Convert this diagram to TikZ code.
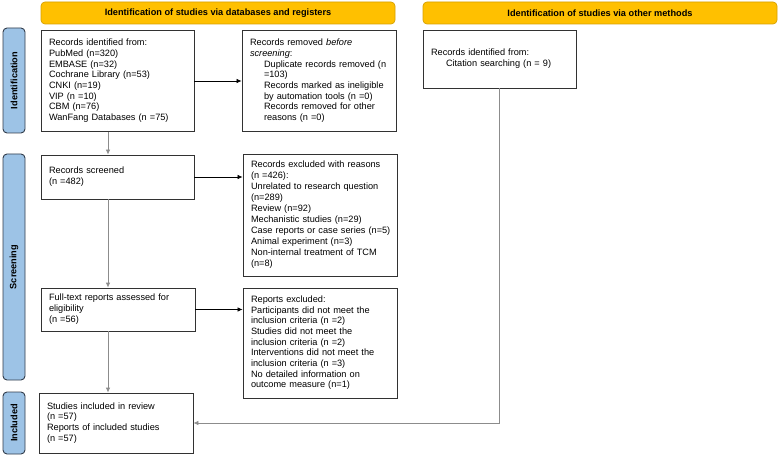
\documentclass[tikz,border=0pt]{standalone}
\usepackage{fontspec}
\setmainfont{Liberation Sans}
\usetikzlibrary{arrows.meta,calc}
\definecolor{bannerfill}{RGB}{255,192,0}
\definecolor{bannerdraw}{RGB}{214,160,0}
\definecolor{sidefill}{RGB}{157,195,230}
\definecolor{sidedraw}{RGB}{50,60,75}
\definecolor{boxdraw}{RGB}{50,50,50}
\definecolor{vline}{RGB}{140,140,140}
\newcommand\bxt[1]{\begin{tabular}{@{}l@{}}#1\end{tabular}}
\begin{document}
\begin{tikzpicture}[x=1pt,y=-1pt,
  font=\fontsize{9.2}{10.7}\selectfont,
  banner/.style={draw=bannerdraw, fill=bannerfill, rounded corners=4pt, line width=0.7pt,
    minimum width=354pt, minimum height=22pt, font=\fontsize{9.2}{10.7}\selectfont\bfseries, inner sep=0pt},
  side/.style={draw=sidedraw, fill=sidefill, rounded corners=4pt, line width=0.9pt, rotate=90,
    minimum height=22pt, font=\fontsize{9.2}{10.7}\selectfont\bfseries, inner sep=0pt},
  box/.style={draw=boxdraw, line width=0.8pt, inner xsep=8pt, inner ysep=0pt, anchor=center},
  hline/.style={draw=black, line width=0.7pt, -{Latex[length=5pt,width=4.5pt]}},
  vconn/.style={draw=vline, line width=0.8pt, -{Latex[length=5pt,width=4.5pt]}}
]
\useasboundingbox (0,0) rectangle (779,457);

% banners
\node[banner] (ban1) at (218,13) {Identification of studies via databases and registers};
\node[banner] (ban2) at (600,13) {Identification of studies via other methods};

% side labels
\node[side, minimum width=105pt] (sid) at (14,80.5) {Identification};
\node[side, minimum width=226pt] (sscr) at (14,267) {Screening};
\node[side, minimum width=62pt] (sinc) at (14,423) {Included};

% boxes
\node[box, text width=137pt, minimum height=101pt] (A) at (117.5,81) {\bxt{Records identified from:\\PubMed (n=320)\\EMBASE (n=32)\\Cochrane Library (n=53)\\CNKI (n=19)\\VIP (n =10)\\CBM (n=76)\\WanFang Databases (n =75)}};

\node[box, text width=138pt, minimum height=101pt] (B) at (319,81) {\bxt{Records removed \textit{before}\\\textit{screening}:\\\hspace*{14pt}Duplicate records removed (n\\\hspace*{14pt}=103)\\\hspace*{14pt}Records marked as ineligible\\\hspace*{14pt}by automation tools (n =0)\\\hspace*{14pt}Records removed for other\\\hspace*{14pt}reasons (n =0)}};

\node[box, text width=137pt, minimum height=58pt] (C) at (499.5,59) {\bxt{Records identified from:\\\hspace*{15pt}Citation searching (n = 9)}};

\node[box, text width=137pt, minimum height=44pt] (D) at (117.5,177) {\bxt{Records screened\\(n =482)}};

\node[box, text width=138pt, minimum height=122pt, font=\fontsize{9.2}{11}\selectfont] (E) at (320,215) {\bxt{Records excluded with reasons\\(n =426):\\Unrelated to research question\\(n=289)\\Review (n=92)\\Mechanistic studies (n=29)\\Case reports or case series (n=5)\\Animal experiment (n=3)\\Non-internal treatment of TCM\\(n=8)}};

\node[box, text width=138pt, minimum height=43pt] (F) at (118,309.5) {\bxt{Full-text reports assessed for\\eligibility\\(n =56)}};

\node[box, text width=138pt, minimum height=110pt] (G) at (320,343) {\bxt{Reports excluded:\\Participants did not meet the\\inclusion criteria (n =2)\\Studies did not meet the\\inclusion criteria (n =2)\\Interventions did not meet the\\inclusion criteria (n =3)\\No detailed information on\\outcome measure (n=1)}};

\node[box, text width=138pt, minimum height=60pt] (H) at (116,423) {\bxt{Studies included in review\\(n =57)\\Reports of included studies\\(n =57)}};

% connectors
\coordinate (vx) at (108,0);
\draw[hline] (A.east) -- (A.east -| B.west);
\draw[hline] (D.east) -- (D.east -| E.west);
\draw[hline] (F.east) -- (F.east -| G.west);
\draw[vconn] (A.south -| vx) -- (D.north -| vx);
\draw[vconn] (D.south -| vx) -- (F.north -| vx);
\draw[vconn] (F.south -| vx) -- (H.north -| vx);
\draw[vconn] (C.south) |- (H.east);
\end{tikzpicture}
\end{document}
